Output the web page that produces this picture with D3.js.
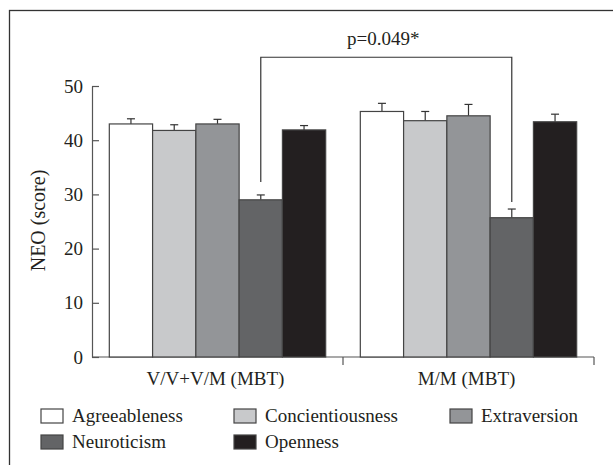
<!DOCTYPE html>
<html>
<head>
<meta charset="utf-8">
<script src="https://cdn.jsdelivr.net/npm/d3@7"></script>
<style>
  body { margin: 0; background: #fff; }
</style>
</head>
<body>
<script>
var svgWidth = 613;
var svgHeight = 465;
var serif = '"Liberation Serif"';

// chart data
var groups = ["V/V+V/M (MBT)", "M/M (MBT)"];
var traits = ["Agreeableness", "Concientiousness", "Extraversion", "Neuroticism", "Openness"];
var means = [
  [43.0, 41.8, 43.0, 29.0, 41.9],
  [45.3, 43.6, 44.5, 25.7, 43.4]
];
var errors = [
  [0.95, 1.05, 0.85, 0.9, 0.8],
  [1.5, 1.7, 2.1, 1.6, 1.4]
];
var yTicks = [0, 10, 20, 30, 40, 50];
var colors = ["#ffffff", "#c8c9cb", "#939598", "#636466", "#231f20"];
var sigLabel = "p=0.049*";
var sigTop = 55.3;
var sigEnds = [32.3, 28.6];

var margin = { top: 86, right: 19, bottom: 108, left: 92 };
var width = svgWidth - margin.left - margin.right;
var height = svgHeight - margin.top - margin.bottom;

var svg = d3.select("body")
            .append("svg")
            .attr("width", svgWidth)
            .attr("height", svgHeight);

// outer frame (runs off the right and bottom edges)
svg.append("rect")
   .attr("x", 9.5)
   .attr("y", 10.5)
   .attr("width", 640)
   .attr("height", 500)
   .attr("fill", "none")
   .attr("stroke", "#333")
   .attr("stroke-width", 1.3);

var chartGroup = svg.append("g")
                    .attr("transform", `translate(${margin.left}, ${margin.top})`);

var x0 = d3.scaleBand().domain(groups).range([0, width]).padding(0);
var x1 = d3.scaleBand().domain(traits).range([0, x0.bandwidth()]).paddingInner(0).paddingOuter(0.4);
var y = d3.scaleLinear().domain([0, 50]).range([height, 0]);

// y axis, ticks pointing inward
var leftAxis = d3.axisLeft(y).tickValues(yTicks).tickSize(-7).tickPadding(9).tickSizeOuter(0);
var yAxis = chartGroup.append("g").call(leftAxis);
yAxis.select(".domain").attr("stroke", "#555").attr("stroke-width", 1.2);
yAxis.selectAll(".tick line").attr("stroke", "#555").attr("stroke-width", 1.2);
yAxis.selectAll(".tick text")
     .style("font-family", serif)
     .style("font-size", "19px")
     .attr("fill", "#231f20");

// x axis line with ticks at group boundaries
chartGroup.append("line")
          .attr("x1", 0).attr("x2", width)
          .attr("y1", height).attr("y2", height)
          .attr("stroke", "#555").attr("stroke-width", 1.2);
chartGroup.selectAll(".xtick")
          .data(groups)
          .enter()
          .append("line")
          .attr("x1", d => x0(d) + x0.bandwidth())
          .attr("x2", d => x0(d) + x0.bandwidth())
          .attr("y1", height)
          .attr("y2", height + 8)
          .attr("stroke", "#555").attr("stroke-width", 1.2);

chartGroup.selectAll(".xlabel")
          .data(groups)
          .enter()
          .append("text")
          .attr("x", d => x0(d) + x0.bandwidth() / 2 - 2)
          .attr("y", height + 28)
          .attr("text-anchor", "middle")
          .attr("fill", "#231f20")
          .style("font-family", serif)
          .style("font-size", "19px")
          .text(d => d);

// bars
var barData = [];
groups.forEach(function(g, gi) {
  traits.forEach(function(t, ti) {
    barData.push({ group: g, trait: t, value: means[gi][ti], err: errors[gi][ti], color: colors[ti] });
  });
});

var bars = chartGroup.selectAll(".bar")
                     .data(barData)
                     .enter()
                     .append("g");

// error bars (upper only)
bars.append("line")
    .attr("x1", d => x0(d.group) + x1(d.trait) + x1.bandwidth() / 2)
    .attr("x2", d => x0(d.group) + x1(d.trait) + x1.bandwidth() / 2)
    .attr("y1", d => y(d.value))
    .attr("y2", d => y(d.value + d.err))
    .attr("stroke", "#333").attr("stroke-width", 1.2);
bars.append("line")
    .attr("x1", d => x0(d.group) + x1(d.trait) + x1.bandwidth() / 2 - 4)
    .attr("x2", d => x0(d.group) + x1(d.trait) + x1.bandwidth() / 2 + 4)
    .attr("y1", d => y(d.value + d.err))
    .attr("y2", d => y(d.value + d.err))
    .attr("stroke", "#333").attr("stroke-width", 1.2);

bars.append("rect")
    .attr("x", d => x0(d.group) + x1(d.trait))
    .attr("y", d => y(d.value))
    .attr("width", x1.bandwidth())
    .attr("height", d => height - y(d.value))
    .attr("fill", d => d.color)
    .attr("stroke", "#444")
    .attr("stroke-width", 1.2);

// significance bracket between neuroticism bars
var sx = groups.map(g => x0(g) + x1("Neuroticism") + x1.bandwidth() / 2);
chartGroup.append("path")
          .attr("d", `M${sx[0]},${y(sigEnds[0])}V${y(sigTop)}H${sx[1]}V${y(sigEnds[1])}`)
          .attr("fill", "none")
          .attr("stroke", "#333")
          .attr("stroke-width", 1.2);
chartGroup.append("text")
          .attr("x", (sx[0] + sx[1]) / 2 - 3)
          .attr("y", y(sigTop) - 12)
          .attr("text-anchor", "middle")
          .attr("fill", "#231f20")
          .style("font-family", serif)
          .style("font-size", "19px")
          .text(sigLabel);

// y axis title
chartGroup.append("text")
          .attr("transform", "rotate(-90)")
          .attr("x", -height / 2 + 1)
          .attr("y", -47)
          .attr("text-anchor", "middle")
          .attr("fill", "#231f20")
          .style("font-family", serif)
          .style("font-size", "20px")
          .text("NEO (score)");

// legend
var legendCols = [41, 234, 450];
var legendRows = [409, 435];
var legend = svg.selectAll(".legend")
                .data(traits)
                .enter()
                .append("g")
                .attr("transform", (d, i) => `translate(${legendCols[i % 3]}, ${legendRows[Math.floor(i / 3)]})`);
legend.append("rect")
      .attr("width", 22)
      .attr("height", 14)
      .attr("fill", (d, i) => colors[i])
      .attr("stroke", "#444")
      .attr("stroke-width", 1.2);
legend.append("text")
      .attr("x", 31)
      .attr("y", 13)
      .attr("fill", "#231f20")
      .style("font-family", serif)
      .style("font-size", "19px")
      .text(d => d);
</script>
</body>
</html>
